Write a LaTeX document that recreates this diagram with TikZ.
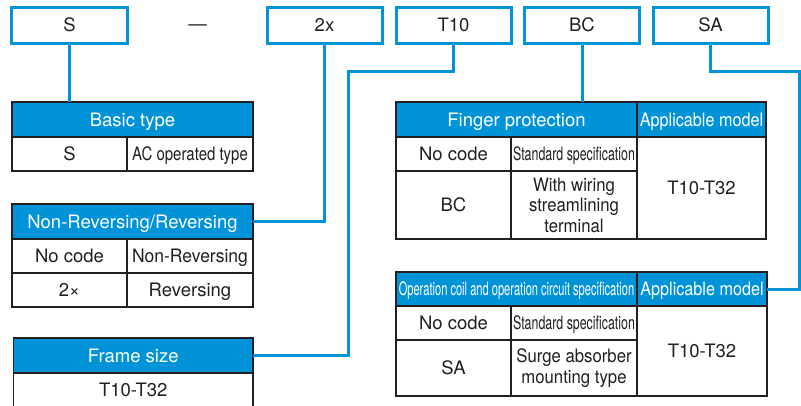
\documentclass[tikz,border=0pt]{standalone}
\usepackage{fontspec}
\usepackage{graphicx}
\setmainfont{TeX Gyre Heros}
\definecolor{cblue}{HTML}{0093D8}
\definecolor{cdark}{HTML}{231F20}
\newcommand\sqz[2]{\scalebox{#1}[1]{#2}}
\begin{document}
\begin{tikzpicture}[x=1bp,y=-1bp,
  base/.style={font=\fontsize{18.5bp}{20.5bp}\selectfont, inner sep=0pt, outer sep=0pt, text height=13bp, text depth=0bp},
  code/.style={base, draw=cblue, line width=3bp, minimum width=115bp, minimum height=36bp, text=cdark},
  hdr/.style={base, draw=cdark, fill=cblue, text=white, line width=1.3bp, anchor=north west},
  cell/.style={base, draw=cdark, fill=white, text=cdark, line width=1.3bp, anchor=north west, align=center},
  mline/.style={text height=, text depth=},
  conn/.style={draw=cblue, line width=3bp}]
\useasboundingbox (0,0) rectangle (801,405);
\clip (0,0) rectangle (801,405);
% top code boxes
\node[code] (sS) at (69.5,25) {S};
\node[base, text=cdark, text height=0bp] (dash) at (197.5,30) {—};
\node[code] (s2x) at (324.5,25) {2x};
\node[code] (sT) at (453.5,25) {T10};
\node[code] (sBC) at (582,25) {BC};
\node[code] (sSA) at (710.5,25) {SA};
% Basic type
\node[hdr, minimum width=241bp, minimum height=35bp] (bt) at (12,102) {Basic type};
\node[cell, minimum width=115bp, minimum height=34bp] (bt1) at (12,137) {S};
\node[cell, minimum width=126bp, minimum height=34bp] (bt2) at (127,137) {\sqz{0.81}{AC operated type}};
% Non-Reversing/Reversing
\node[hdr, minimum width=241bp, minimum height=35bp] (nr) at (12,204) {Non-Reversing/Reversing};
\node[cell, minimum width=115bp, minimum height=34bp] (nr1) at (12,239) {No code};
\node[cell, minimum width=126bp, minimum height=34bp] (nr2) at (127,239) {\sqz{0.945}{Non-Reversing}};
\node[cell, minimum width=115bp, minimum height=34bp] (nr3) at (12,273) {2×};
\node[cell, minimum width=126bp, minimum height=34bp] (nr4) at (127,273) {Reversing};
% Frame size
\node[hdr, minimum width=239.5bp, minimum height=35bp] (fs) at (13.5,338) {Frame size};
\node[cell, minimum width=239.5bp, minimum height=34bp] (fs1) at (13.5,373) {T10-T32};
% Finger protection
\node[hdr, minimum width=241bp, minimum height=35bp] (fp) at (396,102) {Finger protection};
\node[hdr, minimum width=129bp, minimum height=35bp] (fpam) at (637,102) {\sqz{0.875}{Applicable model}};
\node[cell, minimum width=115bp, minimum height=34bp] (fp1) at (396,137) {No code};
\node[cell, minimum width=126bp, minimum height=34bp] (fp2) at (511,137) {\sqz{0.67}{Standard specification}};
\node[cell, minimum width=115bp, minimum height=68bp] (fp3) at (396,171) {BC};
\node[cell, mline, minimum width=126bp, minimum height=68bp] (fp4) at (511,171) {\sqz{0.905}{With wiring}\\\sqz{0.905}{streamlining}\\\sqz{0.905}{terminal}};
\node[cell, minimum width=129bp, minimum height=102bp] (fp5) at (637,137) {T10-T32};
% Operation coil
\node[hdr, minimum width=241bp, minimum height=34bp] (oc) at (396,272) {\sqz{0.60}{Operation coil and operation circuit specification}};
\node[hdr, minimum width=130bp, minimum height=34bp] (ocam) at (637,272) {\sqz{0.875}{Applicable model}};
\node[cell, minimum width=115bp, minimum height=34bp] (oc1) at (396,306) {No code};
\node[cell, minimum width=126bp, minimum height=34bp] (oc2) at (511,306) {\sqz{0.67}{Standard specification}};
\node[cell, minimum width=115bp, minimum height=56bp] (oc3) at (396,340) {SA};
\node[cell, mline, minimum width=126bp, minimum height=56bp] (oc4) at (511,340) {\sqz{0.905}{Surge absorber}\\\sqz{0.905}{mounting type}};
\node[cell, minimum width=130bp, minimum height=90bp] (oc5) at (637,306) {T10-T32};
% connectors
\coordinate (t10turn) at (348,71);
\coordinate (saturn) at (799,71);
\draw[conn] (sS.south) -- (sS.south |- bt.north);
\draw[conn] (s2x.south) |- (nr.east);
\draw[conn] (sT.south) |- (t10turn) |- (fs.east);
\draw[conn] (sBC.south) -- (sBC.south |- fp.north);
\draw[conn] (sSA.south) |- (saturn) |- (ocam.east);
\end{tikzpicture}
\end{document}
